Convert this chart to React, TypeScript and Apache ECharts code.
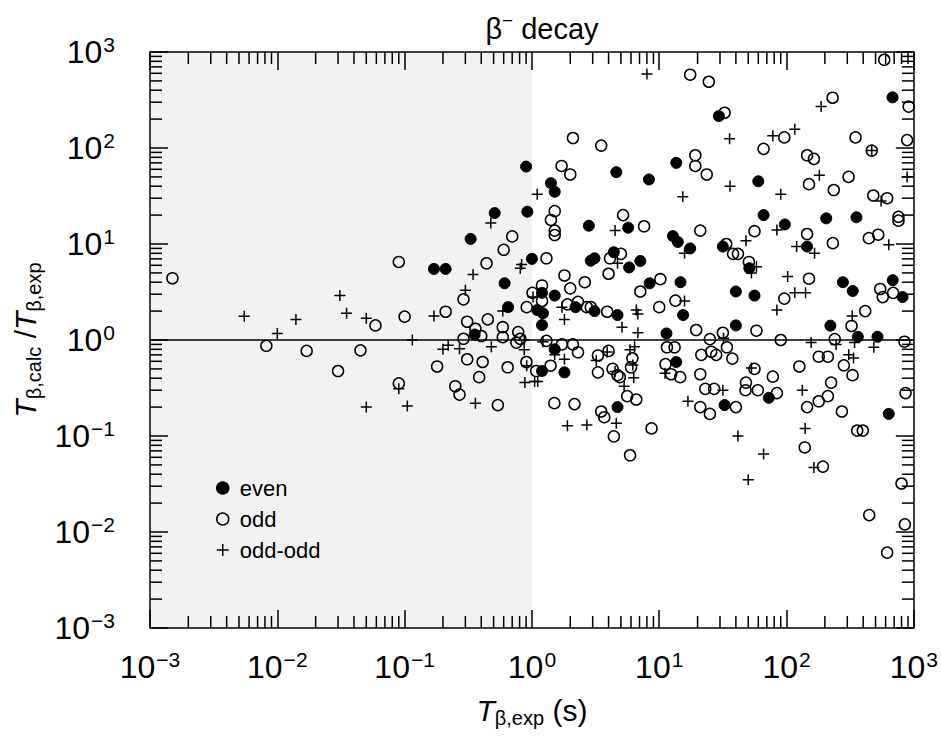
import React, { useEffect, useRef } from "react";
import * as echarts from "echarts";

// ---- data (T_exp in s, ratio T_calc/T_exp) ----
const evenData: [number, number][] = [
  [0.17, 5.5], [0.21, 5.5], [0.33, 11.3], [1.0, 7.0], [0.61, 3.9], [0.65, 2.2], [0.355, 1.14],
  [0.9, 64], [0.51, 21], [0.92, 21.7],
  [29.4, 215], [4.6, 56], [8.3, 47], [13.6, 70], [1.41, 43], [1.51, 35], [2.8, 15.5], [5.7, 14.8], [12.8, 12.1],
  [680, 337], [60, 45], [66, 20], [97, 16], [205, 18.5], [354, 19],
  [31.6, 9.4], [51, 5.6], [145, 9.4], [40, 3.2], [56, 2.9], [277, 4.0], [331, 3.24], [683, 4.2], [815, 2.8],
  [40, 1.42], [221, 1.41], [363, 1.08], [518, 1.08], [72.6, 0.25], [32.6, 0.21], [635, 0.17],
  [2.9, 6.7], [3.1, 7.1], [4.4, 8.2], [5.8, 5.7], [7.1, 6.65], [1.2, 3.1], [1.51, 2.9], [1.1, 2.05], [1.22, 1.9],
  [1.2, 1.43], [2.2, 2.2], [3.1, 2.0], [4.7, 1.82], [11.4, 1.17], [8.4, 3.9], [14.7, 4.0], [15.4, 1.82],
  [17.5, 9.0], [1.51, 0.8], [1.2, 0.475], [1.8, 0.46], [13.6, 0.59], [4.7, 0.2], [14.0, 10.5],
];

const oddData: [number, number][] = [
  [0.0015, 4.4], [0.0082, 0.87], [0.017, 0.77], [0.03, 0.475],
  [0.09, 6.5], [0.6, 8.7], [0.7, 12], [0.44, 6.3], [0.29, 2.65], [0.91, 2.2], [0.21, 1.97], [0.059, 1.42],
  [0.1, 1.75], [0.045, 0.78], [0.31, 1.55], [0.45, 1.64], [0.36, 1.31], [0.4, 1.1], [0.29, 1.03], [0.59, 1.36],
  [0.59, 1.07], [0.78, 1.21], [0.81, 1.03], [0.755, 0.94], [0.31, 0.63], [0.41, 0.59], [0.18, 0.53], [0.645, 0.52],
  [0.905, 0.59], [0.385, 0.41], [0.09, 0.354], [0.25, 0.33], [0.27, 0.27], [0.54, 0.21],
  [17.5, 580], [24.5, 490], [32.6, 233], [2.1, 127], [3.5, 106], [1.71, 65], [2.0, 53], [19.2, 84], [19.2, 65],
  [23.6, 53], [1.51, 22], [1.41, 17.8], [1.51, 13.8], [1.51, 12.4], [5.2, 20], [7.6, 15.3], [21, 13.8],
  [585, 830], [910, 270], [230, 334], [96, 129], [66, 98], [348, 129], [467, 94], [885, 121], [145, 84], [164, 77],
  [150, 42], [235, 36.5], [307, 50], [480, 32], [617, 30], [757, 19.2], [757, 17.5], [56, 13.6], [145, 12.7],
  [443, 11.5], [525, 12.5],
  [33.6, 10], [38, 7.9], [41.5, 7.9], [231, 10.2], [50.6, 6.5], [150, 4.35], [96, 2.7], [544, 3.4], [570, 2.8],
  [687, 3.1], [415, 2.0], [324, 1.4], [58, 1.25], [31.6, 1.19], [90, 1.0], [239, 1.02], [844, 0.96], [34, 0.84],
  [37.5, 0.64], [179, 0.67], [211, 0.67], [282, 0.545], [126, 0.53], [56, 0.5], [330, 0.43], [78, 0.415],
  [48, 0.36], [47.6, 0.3], [59.5, 0.3], [84, 0.28], [224, 0.36], [211, 0.26], [179, 0.23], [860, 0.28], [40, 0.2],
  [145, 0.2], [272, 0.18], [359, 0.114], [397, 0.114],
  [139, 0.076], [193, 0.048], [800, 0.032], [446, 0.015], [850, 0.012], [617, 0.0061], [5.9, 0.063],
  [1.3, 7.1], [4.1, 7.1], [5.0, 7.9], [4.0, 4.9], [1.8, 4.7], [2.0, 3.45], [2.6, 4.0], [1.2, 3.7], [1.01, 3.1],
  [1.2, 2.55], [1.9, 2.35], [2.3, 2.5], [2.7, 2.2], [2.9, 2.2], [3.9, 1.97], [7.1, 3.2], [10.2, 4.3], [10, 2.2],
  [13.4, 2.57], [19.5, 1.27], [25, 1.02], [1.3, 0.98], [1.72, 0.9], [2.1, 0.9], [2.3, 0.745], [1.4, 0.54],
  [1.08, 0.475], [3.3, 0.69], [4.0, 0.77], [3.3, 0.46], [4.3, 0.5], [4.7, 0.43], [4.9, 0.41], [6.15, 0.645],
  [6.0, 0.52], [11.5, 0.84], [13.2, 0.84], [11.2, 0.56], [12.4, 0.44], [14.6, 0.41], [21.4, 0.7], [25.6, 0.755],
  [28, 0.7], [21, 0.44], [23, 0.31], [27, 0.31], [21, 0.2], [25, 0.17], [1.5, 0.22], [2.16, 0.215], [5.6, 0.26],
  [6.6, 0.24], [3.5, 0.18], [3.7, 0.157], [4.4, 0.099], [8.7, 0.12],
];

const oddOddData: [number, number][] = [
  [0.0055, 1.77], [0.01, 1.17], [0.014, 1.64], [0.031, 2.9], [0.035, 1.9],
  [0.345, 4.8], [0.83, 6.1], [0.81, 5.6], [0.3, 3.3], [0.59, 2.0], [0.17, 1.78], [0.05, 1.68], [0.115, 1.0],
  [0.87, 1.0], [0.87, 0.79], [0.2, 0.8], [0.22, 0.88], [0.27, 0.81], [0.48, 0.85], [0.91, 0.54], [0.09, 0.31],
  [0.88, 0.36], [0.36, 0.22], [0.05, 0.2], [0.105, 0.205], [0.475, 16.5],
  [8.0, 590], [35.7, 125], [1.1, 33], [4.5, 13.8], [15.3, 31],
  [187, 270], [78, 134], [116, 157], [467, 94], [885, 50], [181, 52], [36, 40], [90, 33], [553, 28], [84, 14],
  [48, 10.8], [58, 5.8], [53, 5.0], [120, 9.4], [166, 8.0], [635, 9.8], [102, 4.6], [116, 3.1], [141, 3.1],
  [84, 2.05], [328, 1.78], [156, 0.94], [245, 0.9], [342, 0.94], [485, 0.84], [32, 1.04], [308, 0.7], [336, 0.65],
  [53, 0.51], [31.6, 0.3], [133, 0.3], [140, 0.12], [41.5, 0.1],
  [66, 0.065], [50, 0.035], [164, 0.047],
  [4.7, 6.3], [1.02, 2.8], [1.72, 2.2], [1.8, 1.64], [5.1, 1.36], [6.6, 2.05], [6.8, 1.87], [6.8, 1.19],
  [15.8, 2.55], [15.8, 8.0], [1.22, 0.96], [1.51, 0.7], [1.8, 0.63], [1.05, 0.37], [1.11, 0.37], [3.9, 0.75],
  [3.2, 0.61], [4.5, 0.47], [5.3, 0.33], [5.9, 0.79], [6.4, 0.85], [6.2, 0.55], [6.3, 0.405], [11.1, 0.45],
  [16.8, 0.23], [1.9, 0.128], [2.7, 0.13], [4.6, 0.136],
];

const seriesNames = ["even", "odd", "odd-odd"];
const X_MIN = 1e-3;
const X_MAX = 1e3;
const Y_MIN = 1e-3;
const Y_MAX = 1e3;
const SHADE_END = 1; // shaded region up to T = 1 s
const REF_LINE = 1; // ratio = 1
const decades = [-3, -2, -1, 0, 1, 2];
const minorMultipliers = [2, 3, 4, 5, 6, 7, 8, 9];
const minorTicks: number[] = [];
decades.forEach((d) => minorMultipliers.forEach((m) => minorTicks.push(m * Math.pow(10, d))));

const FONT = "'Liberation Sans', Arial, Helvetica, sans-serif";
const MAJOR_LEN = 18;
const MINOR_LEN = 12;
const LW = 1.5;

const expLabel = (v: number) => {
  const e = Math.round(Math.log10(v));
  const s = e < 0 ? "\u2212" + -e : String(e);
  return `{b|10}{s|${s}}`;
};

const labelRich = {
  b: { fontSize: 32, fontFamily: FONT, color: "#000", lineHeight: 36 },
  s: { fontSize: 21, fontFamily: FONT, color: "#000", verticalAlign: "top", lineHeight: 36, padding: [0, 0, 0, 1] },
};

const nameRich = {
  t: { fontSize: 30, fontStyle: "italic", fontFamily: FONT, color: "#000", lineHeight: 36 },
  sub: { fontSize: 20, fontFamily: FONT, color: "#000", verticalAlign: "bottom", lineHeight: 24 },
  r: { fontSize: 30, fontFamily: FONT, color: "#000", lineHeight: 36 },
};

const PLUS = "path://M6,0 L6,12 M0,6 L12,6";

export default function App() {
  const ref = useRef<HTMLDivElement>(null);
  useEffect(() => {
    if (!ref.current) return;
    const chart = echarts.init(ref.current, null, { renderer: "svg" });

    const minorX = {
      type: "custom",
      coordinateSystem: "cartesian2d",
      silent: true,
      clip: false,
      z: 20,
      data: minorTicks.map((v) => [v, REF_LINE]),
      renderItem: (_p: any, api: any) => {
        const v = api.value(0);
        const b = api.coord([v, Y_MIN]);
        const t = api.coord([v, Y_MAX]);
        const st = { stroke: "#000", lineWidth: LW };
        return {
          type: "group",
          children: [
            { type: "line", shape: { x1: b[0], y1: b[1], x2: b[0], y2: b[1] - MINOR_LEN }, style: st },
            { type: "line", shape: { x1: t[0], y1: t[1], x2: t[0], y2: t[1] + MINOR_LEN }, style: st },
          ],
        };
      },
    };
    const minorY = {
      type: "custom",
      coordinateSystem: "cartesian2d",
      silent: true,
      clip: false,
      z: 20,
      data: minorTicks.map((v) => [REF_LINE, v]),
      renderItem: (_p: any, api: any) => {
        const v = api.value(1);
        const l = api.coord([X_MIN, v]);
        const r = api.coord([X_MAX, v]);
        const st = { stroke: "#000", lineWidth: LW };
        return {
          type: "group",
          children: [
            { type: "line", shape: { x1: l[0], y1: l[1], x2: l[0] + MINOR_LEN, y2: l[1] }, style: st },
            { type: "line", shape: { x1: r[0], y1: r[1], x2: r[0] - MINOR_LEN, y2: r[1] }, style: st },
          ],
        };
      },
    };

    const axisCommon = {
      type: "log",
      logBase: 10,
      z: 10,
      axisLine: { show: true, onZero: false, lineStyle: { color: "#000", width: LW } },
      axisTick: { show: true, inside: true, length: MAJOR_LEN, lineStyle: { color: "#000", width: LW } },
      splitLine: { show: false },
      minorTick: { show: false },
    };

    chart.setOption({
      animation: false,
      backgroundColor: "#fff",
      title: {
        text: "{b|\u03b2}{s|\u2212}{b| decay}",
        left: 537,
        top: 6,
        textAlign: "center",
        textStyle: {
          fontWeight: "normal",
          rich: {
            b: { fontSize: 29, fontWeight: "normal", fontFamily: FONT, color: "#000", lineHeight: 36 },
            s: { fontSize: 19, fontWeight: "normal", fontFamily: FONT, color: "#000", verticalAlign: "top", lineHeight: 36 },
          },
        },
      },
      grid: { left: 150, top: 52, right: 27, bottom: 112, containLabel: false },
      legend: {
        data: seriesNames,
        orient: "vertical",
        left: 211,
        top: 472,
        itemWidth: 12,
        itemHeight: 12,
        itemGap: 9,
        textStyle: { fontSize: 22, fontFamily: FONT, color: "#000", padding: [0, 0, 0, 6] },
        itemStyle: { borderWidth: LW },
        selectedMode: false,
      },
      xAxis: [
        {
          ...axisCommon,
          position: "bottom",
          min: X_MIN,
          max: X_MAX,
          axisLabel: { formatter: expLabel, margin: 21, rich: labelRich },
          name: "{t|T}{sub|\u03b2,exp}{r| (s)}",
          nameLocation: "middle",
          nameGap: 64,
          nameTextStyle: { rich: nameRich },
        },
        {
          ...axisCommon,
          position: "top",
          min: X_MIN,
          max: X_MAX,
          axisLabel: { show: false },
        },
      ],
      yAxis: [
        {
          ...axisCommon,
          position: "left",
          min: Y_MIN,
          max: Y_MAX,
          axisLabel: { formatter: expLabel, margin: 35, rich: labelRich },
          name: "{t|T}{sub|\u03b2,calc}{r| /}{t|T}{sub|\u03b2,exp}",
          nameLocation: "middle",
          nameRotate: 90,
          nameGap: 88,
          nameTextStyle: { rich: nameRich },
        },
        {
          ...axisCommon,
          position: "right",
          min: Y_MIN,
          max: Y_MAX,
          axisLabel: { show: false },
        },
      ],
      series: [
        {
          name: "shade",
          type: "scatter",
          data: [],
          silent: true,
          z: 1,
          markArea: {
            silent: true,
            itemStyle: { color: "#f2f2f2" },
            data: [[{ coord: [X_MIN, Y_MIN] }, { coord: [SHADE_END, Y_MAX] }]],
          },
          markLine: {
            silent: true,
            symbol: "none",
            label: { show: false },
            lineStyle: { color: "#000", width: LW, type: "solid" },
            data: [{ yAxis: REF_LINE }],
          },
        },
        minorX,
        minorY,
        {
          name: "even",
          type: "scatter",
          data: evenData,
          symbol: "circle",
          symbolSize: 11,
          itemStyle: { color: "#000", borderColor: "#000", borderWidth: 1, opacity: 1 },
          z: 3,
        },
        {
          name: "odd",
          type: "scatter",
          data: oddData,
          symbol: "circle",
          symbolSize: 11,
          itemStyle: { color: "rgba(0,0,0,0)", borderColor: "#000", borderWidth: LW, opacity: 1 },
          z: 4,
        },
        {
          name: "odd-odd",
          type: "scatter",
          data: oddOddData,
          symbol: PLUS,
          symbolSize: 11,
          itemStyle: { color: "rgba(0,0,0,0)", borderColor: "#000", borderWidth: LW, opacity: 1 },
          z: 5,
        },
      ],
    });
    return () => chart.dispose();
  }, []);

  return (
    <div
      ref={ref}
      style={{ position: "fixed", left: 0, top: 0, width: 941, height: 740, background: "#fff" }}
    />
  );
}
